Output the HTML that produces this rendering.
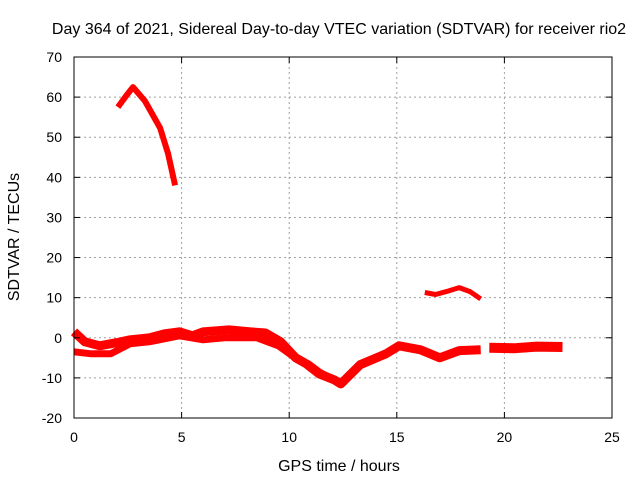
<!DOCTYPE html>
<html><head><meta charset="utf-8"><style>
body{margin:0;background:#fff;}
text{font-family:"Liberation Sans",sans-serif;}
</style></head><body>
<svg id="chart" width="640" height="480" xmlns="http://www.w3.org/2000/svg">
<rect width="640" height="480" fill="#fff"/>
<g id="grid"></g>
<g id="series"></g>
<rect x="74" y="57" width="538" height="361" fill="none" stroke="#000" stroke-width="1"/>
<g id="ticks"></g>
<text x="339" y="34" font-size="16" text-anchor="middle">Day 364 of 2021, Sidereal Day-to-day VTEC variation (SDTVAR) for receiver rio2</text>
<text x="339" y="471" font-size="16" text-anchor="middle">GPS time / hours</text>
<text transform="translate(19,237) rotate(-90)" font-size="16" text-anchor="middle">SDTVAR / TECUs</text>
</svg>
<script>
const xTicks=[0,5,10,15,20,25];
const yTicks=[-20,-10,0,10,20,30,40,50,60,70];
const seg1Hours=[2.04,2.42,2.74,3.3,4.0,4.37,4.7];
const seg1Vals=[57.5,60.3,62.5,59,52.3,46,38];
const mainHours=[0,0.5,1.2,2.0,2.6,3.5,4.2,4.9,5.5,6,7.2,8.2,8.9,9.6,10.3,10.8,11.4,12.1,12.4,13.3,14.5,15.1,16.1,17,17.9,18.9];
const mainVals=[1.5,-1,-2,-1.2,-0.5,0,1,1.5,0.5,1.5,2,1.5,1.2,-1,-5,-6.5,-9,-10.5,-11.5,-6.7,-4,-2,-3,-5,-3.2,-3];
const lowHours=[0,0.8,1.7,2.6,3.5,4.9,6,7,8.5,9.5,10.4,10.9,11.4,11.9];
const lowVals=[-3.5,-4,-4,-1.5,-1,0.5,-0.5,0,0,-2,-5.5,-6.5,-8.5,-10];
const tailHours=[19.3,20.5,21.5,22.7];
const tailVals=[-2.5,-2.6,-2.2,-2.3];
const upHours=[16.3,16.8,17.3,17.9,18.4,18.9];
const upVals=[11.3,10.8,11.5,12.5,11.5,9.7];
const X=h=>74+h*538/25;
const Y=v=>57+(70-v)*361/90;
const NS="http://www.w3.org/2000/svg";
const grid=document.getElementById('grid'),ticks=document.getElementById('ticks'),ser=document.getElementById('series');
function mk(tag,attrs,parent){const e=document.createElementNS(NS,tag);for(const k in attrs)e.setAttribute(k,attrs[k]);parent.appendChild(e);return e;}
xTicks.forEach(t=>{
 if(t>0&&t<25){const g=mk('line',{x1:X(t),x2:X(t),y1:57,y2:418,stroke:'#a0a0a0','stroke-dasharray':'2,3'},grid);
 
 }
 mk('line',{x1:X(t),x2:X(t),y1:418,y2:412,stroke:'#000'},ticks);
 mk('line',{x1:X(t),x2:X(t),y1:57,y2:63,stroke:'#000'},ticks);
 const l=mk('text',{x:X(t),y:442,'font-size':14,'text-anchor':'middle'},ticks);l.textContent=t;
 
 
});
yTicks.forEach(t=>{
 if(t>-20&&t<70){const g=mk('line',{x1:74,x2:612,y1:Y(t),y2:Y(t),stroke:'#a0a0a0','stroke-dasharray':'2,3'},grid);
 
 }
 mk('line',{x1:74,x2:80,y1:Y(t),y2:Y(t),stroke:'#000'},ticks);
 mk('line',{x1:612,x2:606,y1:Y(t),y2:Y(t),stroke:'#000'},ticks);
 const l=mk('text',{x:62,y:Y(t)+5,'font-size':14,'text-anchor':'end'},ticks);l.textContent=t;
 
 
});
function draw(hs,vs,name,w){
 const d=hs.map((h,i)=>(i?'L':'M')+X(h).toFixed(1)+','+Y(vs[i]).toFixed(1)).join('');
 const p=mk('path',{d:d,fill:'none',stroke:'#ff0000','stroke-width':w,'stroke-linejoin':'round','stroke-linecap':'butt'},ser);
 
 
}
draw(seg1Hours,seg1Vals,'series-early-high',6);
draw(mainHours,mainVals,'series-main',9);
draw(lowHours,lowVals,'series-lower-branch',7);
draw(tailHours,tailVals,'series-tail',10);
draw(upHours,upVals,'series-upper-arc',5);
</script>
</body></html>
